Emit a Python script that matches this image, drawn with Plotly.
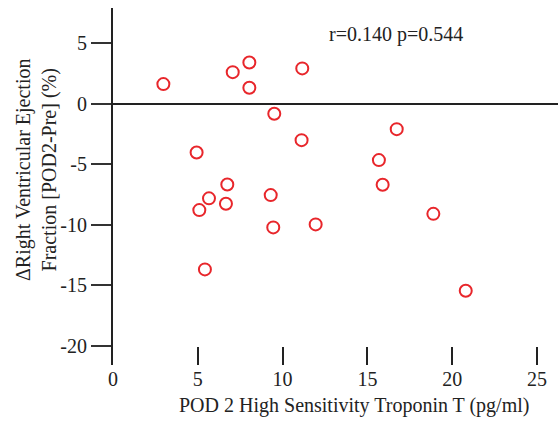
import plotly.graph_objects as go

troponin = [2.97, 7.06, 8.04, 8.04, 11.16, 9.51, 11.12, 4.93, 16.73, 15.68, 15.90,
            6.74, 5.66, 6.66, 5.09, 9.30, 9.45, 11.95, 5.42, 18.89, 20.8]
delta_rvef = [1.61, 2.60, 3.40, 1.31, 2.91, -0.84, -3.02, -4.04, -2.11, -4.67, -6.71,
              -6.68, -7.83, -8.28, -8.80, -7.56, -10.23, -9.98, -13.70, -9.11, -15.47]
x_ticks = [0, 5, 10, 15, 20, 25]
y_ticks = [-20, -15, -10, -5, 0, 5]
y_tick_text = ["-20", "-15", "-10", "-5", "0", "5"]
stat_text = "r=0.140 p=0.544"
x_title = "POD 2 High Sensitivity Troponin T (pg/ml)"
y_title = "ΔRight Ventricular Ejection<br>Fraction [POD2-Pre] (%)"

FONT = "Liberation Serif, Times New Roman, serif"
W, H = 558, 421
L, R, T, B = 113, 0, 8, 56

fig = go.Figure(go.Scatter(
    x=troponin, y=delta_rvef, mode="markers",
    marker=dict(symbol="circle-open", size=12, color="#e8262b",
                line=dict(width=2, color="#e8262b")),
    showlegend=False,
))

fig.update_layout(
    width=W, height=H,
    margin=dict(l=L, r=R, t=T, b=B, pad=0),
    paper_bgcolor="white", plot_bgcolor="white",
    font=dict(family=FONT, size=20, color="#222"),
    xaxis=dict(range=[0, 26.24], tickvals=x_ticks, ticks="inside", ticklen=18,
               tickwidth=2, tickcolor="#222", showline=False, showgrid=False,
               zeroline=False, tickfont=dict(size=20, family=FONT)),
    yaxis=dict(range=[-21.6, 7.9], tickvals=y_ticks, ticktext=y_tick_text,
               ticks="outside", ticklen=20,
               tickwidth=2, tickcolor="#333", showline=True, linewidth=2,
               linecolor="#222", showgrid=False, zeroline=True, zerolinewidth=2,
               zerolinecolor="#222", tickfont=dict(size=20, family=FONT)),
    annotations=[
        dict(text=stat_text, x=16.69, y=5.74, xref="x", yref="y",
             showarrow=False, font=dict(size=20, family=FONT)),
        dict(text=x_title, x=14.24, y=-40 / 357, xref="x", yref="paper",
             xanchor="center", yanchor="middle", showarrow=False,
             font=dict(size=20, family=FONT)),
        dict(text=y_title, x=(36 - L) / 445, y=(365 - 170) / 357,
             xref="paper", yref="paper", textangle=-90, xanchor="center",
             yanchor="middle", showarrow=False,
             font=dict(size=20, family=FONT)),
    ],
)

fig.write_html("out.html")
